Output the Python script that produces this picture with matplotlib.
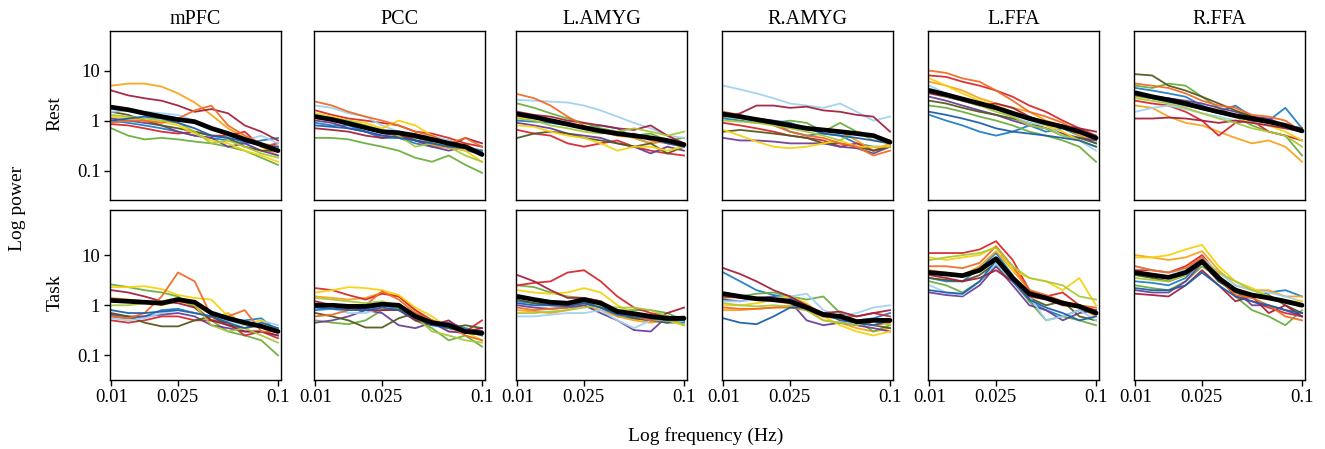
import matplotlib.pyplot as plt
import numpy as np

# ==========================================================
# DATA  (power spectra, 12 subjects + group mean)
# ==========================================================

freq = [0.01, 0.0126, 0.0158, 0.02, 0.0251, 0.0316, 0.0398, 0.0501, 0.0631, 0.0794, 0.1]

regions = ["mPFC", "PCC", "L.AMYG", "R.AMYG", "L.FFA", "R.FFA"]
conditions = ["Rest", "Task"]

# subject order: blue, orange, green, red, purple, olive, light blue,
#                yellow, dark red, orange-red, yellow-green, dark blue

rest_mPFC = [
    [1.0, 0.9, 0.8, 0.7, 0.6, 0.5, 0.45, 0.4, 0.35, 0.4, 0.45],
    [5.0, 5.5, 5.5, 4.8, 3.5, 2.3, 1.3, 0.7, 0.45, 0.3, 0.2],
    [0.7, 0.5, 0.42, 0.45, 0.42, 0.38, 0.35, 0.3, 0.25, 0.18, 0.13],
    [0.85, 0.8, 0.7, 0.6, 0.55, 0.6, 0.5, 0.5, 0.6, 0.3, 0.35],
    [1.1, 1.0, 0.9, 0.8, 0.6, 0.5, 0.45, 0.3, 0.35, 0.25, 0.2],
    [1.5, 1.3, 1.0, 0.8, 0.7, 0.6, 0.5, 0.45, 0.3, 0.25, 0.25],
    [1.5, 1.6, 1.5, 1.4, 1.3, 1.0, 0.7, 0.5, 0.4, 0.5, 0.35],
    [1.2, 1.1, 1.0, 0.95, 0.8, 0.55, 0.4, 0.35, 0.25, 0.2, 0.15],
    [4.0, 3.2, 2.8, 2.5, 2.0, 1.5, 1.7, 1.4, 0.8, 0.6, 0.4],
    [0.9, 1.0, 1.0, 0.9, 1.1, 1.6, 2.0, 0.8, 0.5, 0.35, 0.3],
    [1.3, 1.2, 1.1, 1.0, 0.9, 0.6, 0.35, 0.4, 0.3, 0.22, 0.18],
    [1.0, 1.1, 1.2, 1.1, 0.9, 0.7, 0.5, 0.45, 0.38, 0.32, 0.3],
]
mean_rest_mPFC = [1.85, 1.65, 1.4, 1.2, 1.05, 0.95, 0.7, 0.55, 0.42, 0.33, 0.25]

rest_PCC = [
    [0.9, 0.8, 0.8, 0.6, 0.45, 0.45, 0.35, 0.3, 0.3, 0.25, 0.22],
    [1.1, 1.0, 0.85, 0.75, 0.6, 0.5, 0.4, 0.32, 0.28, 0.35, 0.2],
    [0.45, 0.45, 0.42, 0.35, 0.3, 0.25, 0.18, 0.15, 0.2, 0.13, 0.09],
    [1.6, 1.3, 1.1, 1.0, 0.9, 0.8, 0.6, 0.55, 0.45, 0.35, 0.3],
    [1.0, 0.9, 0.7, 0.6, 0.5, 0.55, 0.4, 0.3, 0.25, 0.3, 0.25],
    [1.2, 1.1, 0.9, 0.8, 0.6, 0.5, 0.45, 0.38, 0.4, 0.3, 0.2],
    [2.0, 1.8, 1.4, 1.2, 0.8, 0.6, 0.5, 0.5, 0.4, 0.3, 0.25],
    [1.4, 1.2, 1.0, 0.9, 0.7, 1.0, 0.8, 0.5, 0.3, 0.25, 0.15],
    [0.7, 0.65, 0.6, 0.5, 0.45, 0.5, 0.4, 0.35, 0.3, 0.45, 0.35],
    [2.4, 2.0, 1.5, 1.2, 1.0, 0.8, 0.6, 0.5, 0.35, 0.45, 0.3],
    [1.3, 1.1, 1.0, 0.8, 0.65, 0.5, 0.3, 0.35, 0.3, 0.2, 0.15],
    [0.8, 0.75, 0.7, 0.6, 0.5, 0.45, 0.4, 0.35, 0.3, 0.28, 0.25],
]
mean_rest_PCC = [1.2, 1.05, 0.88, 0.72, 0.6, 0.57, 0.5, 0.42, 0.35, 0.3, 0.21]

rest_LAMYG = [
    [1.0, 0.95, 0.9, 0.8, 0.7, 0.8, 0.7, 0.45, 0.35, 0.4, 0.3],
    [1.2, 1.1, 1.0, 0.9, 0.7, 0.6, 0.5, 0.45, 0.35, 0.4, 0.32],
    [2.2, 1.8, 1.4, 1.1, 0.9, 0.7, 0.6, 0.5, 0.55, 0.4, 0.45],
    [0.65, 0.55, 0.5, 0.35, 0.3, 0.35, 0.4, 0.3, 0.25, 0.22, 0.2],
    [0.9, 0.8, 0.7, 0.55, 0.5, 0.45, 0.35, 0.3, 0.22, 0.3, 0.25],
    [0.45, 0.55, 0.6, 0.55, 0.45, 0.4, 0.35, 0.3, 0.35, 0.22, 0.3],
    [2.6, 2.5, 2.4, 2.3, 2.0, 1.6, 1.2, 0.9, 0.7, 0.5, 0.45],
    [0.8, 0.75, 0.6, 0.5, 0.45, 0.35, 0.25, 0.3, 0.3, 0.25, 0.3],
    [1.5, 1.3, 1.2, 1.0, 0.9, 0.8, 0.7, 0.65, 0.8, 0.5, 0.35],
    [3.4, 2.8, 2.0, 1.2, 0.8, 0.6, 0.5, 0.55, 0.4, 0.35, 0.3],
    [1.1, 1.0, 0.8, 0.7, 0.6, 0.55, 0.6, 0.7, 0.6, 0.5, 0.6],
    [1.3, 1.2, 1.0, 0.85, 0.7, 0.6, 0.55, 0.5, 0.45, 0.35, 0.3],
]
mean_rest_LAMYG = [1.35, 1.18, 1.0, 0.85, 0.72, 0.62, 0.55, 0.5, 0.45, 0.4, 0.33]

rest_RAMYG = [
    [1.1, 1.0, 0.9, 0.9, 0.6, 0.5, 0.55, 0.5, 0.35, 0.3, 0.3],
    [1.4, 1.2, 1.0, 0.9, 0.8, 0.7, 0.65, 0.6, 0.4, 0.25, 0.35],
    [1.2, 1.1, 1.0, 0.9, 1.0, 0.9, 0.6, 0.9, 0.6, 0.5, 0.4],
    [0.9, 0.8, 0.7, 0.6, 0.5, 0.45, 0.4, 0.3, 0.35, 0.25, 0.3],
    [0.45, 0.4, 0.4, 0.38, 0.35, 0.35, 0.35, 0.3, 0.28, 0.22, 0.3],
    [0.6, 0.65, 0.6, 0.55, 0.5, 0.45, 0.35, 0.35, 0.3, 0.25, 0.3],
    [5.0, 4.2, 3.5, 2.8, 2.2, 2.0, 1.8, 2.2, 1.5, 1.0, 1.2],
    [0.65, 0.5, 0.38, 0.3, 0.28, 0.3, 0.35, 0.4, 0.3, 0.3, 0.3],
    [1.2, 1.4, 2.0, 2.0, 1.8, 1.9, 1.6, 1.5, 1.3, 1.2, 0.6],
    [1.5, 1.3, 1.0, 0.8, 0.6, 0.5, 0.45, 0.35, 0.3, 0.2, 0.25],
    [1.0, 0.95, 0.9, 0.8, 0.7, 0.6, 0.5, 0.4, 0.6, 0.4, 0.35],
    [1.3, 1.2, 1.1, 1.0, 0.9, 0.7, 0.55, 0.5, 0.45, 0.4, 0.35],
]
mean_rest_RAMYG = [1.35, 1.2, 1.05, 0.92, 0.8, 0.7, 0.65, 0.6, 0.55, 0.5, 0.37]

rest_LFFA = [
    [1.3, 1.0, 0.8, 0.6, 0.5, 0.6, 0.8, 0.6, 0.7, 0.5, 0.35],
    [6.0, 5.0, 4.0, 2.8, 2.2, 1.8, 1.5, 1.0, 0.8, 0.5, 0.4],
    [2.0, 1.8, 1.5, 1.2, 1.0, 0.8, 0.6, 0.5, 0.4, 0.3, 0.15],
    [8.0, 7.5, 6.0, 5.0, 4.0, 3.0, 2.0, 1.5, 1.0, 0.7, 0.5],
    [3.0, 2.5, 2.0, 1.6, 1.3, 1.0, 0.8, 0.7, 0.55, 0.45, 0.4],
    [2.5, 2.2, 1.8, 1.5, 1.3, 1.1, 0.9, 0.7, 0.5, 0.45, 0.35],
    [5.0, 3.5, 2.7, 2.0, 1.7, 1.2, 0.9, 0.8, 0.5, 0.4, 0.25],
    [7.0, 5.0, 3.5, 2.5, 2.0, 1.5, 1.2, 0.8, 0.6, 0.4, 0.3],
    [3.5, 3.0, 2.5, 2.0, 2.2, 1.8, 1.2, 0.9, 0.8, 0.7, 0.6],
    [10.0, 9.0, 7.0, 6.0, 4.0, 2.5, 1.5, 1.2, 0.9, 0.6, 0.5],
    [4.0, 3.0, 2.5, 2.0, 1.5, 1.2, 0.8, 0.7, 0.5, 0.4, 0.3],
    [1.5, 1.3, 1.1, 0.9, 0.7, 0.6, 0.55, 0.5, 0.45, 0.4, 0.3],
]
mean_rest_LFFA = [4.0, 3.3, 2.7, 2.2, 1.8, 1.4, 1.1, 0.9, 0.75, 0.6, 0.45]

rest_RFFA = [
    [4.5, 4.0, 3.5, 3.0, 2.0, 1.5, 2.0, 1.2, 1.0, 1.8, 0.7],
    [2.0, 1.8, 1.2, 0.9, 0.8, 0.6, 0.45, 0.35, 0.4, 0.3, 0.15],
    [5.0, 4.5, 5.5, 5.0, 3.0, 1.8, 1.2, 0.8, 0.6, 0.5, 0.2],
    [2.5, 2.2, 2.0, 1.5, 1.0, 0.5, 0.9, 1.0, 0.6, 0.5, 0.4],
    [3.5, 3.0, 2.8, 2.5, 2.2, 1.8, 1.5, 1.2, 1.1, 0.8, 0.7],
    [8.5, 8.0, 5.0, 4.0, 3.0, 2.2, 1.6, 1.2, 1.0, 0.8, 0.7],
    [1.5, 1.8, 2.0, 1.7, 1.4, 1.2, 1.0, 0.9, 0.8, 0.7, 0.6],
    [3.0, 2.8, 2.5, 2.0, 1.8, 1.5, 1.2, 0.9, 0.8, 0.6, 0.4],
    [1.1, 1.1, 1.15, 1.1, 1.0, 0.9, 1.0, 0.9, 0.8, 0.7, 0.6],
    [5.5, 5.0, 4.5, 3.5, 2.5, 2.0, 1.8, 1.3, 1.2, 1.0, 0.6],
    [2.8, 2.5, 2.2, 1.8, 1.4, 1.1, 0.9, 0.7, 0.6, 0.5, 0.3],
    [3.2, 2.8, 2.4, 2.0, 1.7, 1.4, 1.2, 1.0, 0.9, 0.8, 0.6],
]
mean_rest_RFFA = [3.6, 3.0, 2.6, 2.2, 1.8, 1.5, 1.25, 1.1, 0.95, 0.8, 0.62]

task_mPFC = [
    [0.6, 0.55, 0.6, 0.8, 0.85, 0.7, 0.6, 0.5, 0.5, 0.55, 0.3],
    [1.4, 1.3, 1.2, 1.0, 1.2, 1.0, 0.5, 0.7, 0.4, 0.4, 0.3],
    [2.6, 2.3, 2.0, 1.8, 1.5, 0.9, 0.5, 0.3, 0.25, 0.2, 0.1],
    [0.5, 0.45, 0.5, 0.6, 0.6, 0.5, 0.5, 0.45, 0.25, 0.3, 0.22],
    [0.65, 0.6, 0.6, 0.65, 0.7, 0.6, 0.4, 0.35, 0.3, 0.3, 0.25],
    [0.7, 0.6, 0.45, 0.38, 0.38, 0.5, 0.6, 0.4, 0.35, 0.4, 0.3],
    [0.55, 0.5, 0.55, 0.7, 0.8, 0.7, 0.6, 0.5, 0.4, 0.5, 0.4],
    [2.3, 2.3, 2.4, 2.1, 1.6, 1.4, 1.3, 0.6, 0.4, 0.5, 0.3],
    [2.0, 1.8, 1.5, 1.2, 1.1, 0.9, 0.5, 0.4, 0.3, 0.3, 0.25],
    [0.6, 0.55, 0.7, 1.5, 4.5, 3.0, 0.6, 0.6, 0.8, 0.3, 0.3],
    [1.0, 1.0, 1.1, 1.2, 1.4, 1.0, 0.4, 0.3, 0.35, 0.25, 0.18],
    [0.8, 0.7, 0.7, 0.75, 0.8, 0.7, 0.6, 0.45, 0.35, 0.45, 0.35],
]
mean_task_mPFC = [1.25, 1.2, 1.15, 1.1, 1.3, 1.15, 0.7, 0.55, 0.45, 0.38, 0.3]

task_PCC = [
    [0.8, 0.85, 0.9, 0.85, 1.0, 0.85, 0.5, 0.4, 0.45, 0.35, 0.3],
    [1.5, 1.4, 1.3, 1.4, 1.8, 1.5, 0.8, 0.5, 0.3, 0.3, 0.25],
    [0.5, 0.45, 0.42, 0.5, 0.8, 0.9, 0.5, 0.35, 0.2, 0.25, 0.15],
    [2.2, 2.0, 1.6, 1.3, 1.7, 1.5, 0.8, 0.5, 0.35, 0.3, 0.5],
    [0.45, 0.5, 0.6, 0.8, 0.7, 0.4, 0.35, 0.45, 0.3, 0.28, 0.3],
    [0.7, 0.6, 0.5, 0.36, 0.36, 0.55, 0.7, 0.5, 0.35, 0.4, 0.35],
    [0.9, 0.85, 0.7, 0.7, 0.9, 1.0, 0.6, 0.45, 0.4, 0.3, 0.28],
    [1.8, 2.0, 2.3, 2.2, 2.0, 1.6, 0.9, 0.6, 0.35, 0.3, 0.2],
    [1.2, 1.0, 0.85, 0.8, 0.8, 0.8, 0.5, 0.4, 0.5, 0.3, 0.35],
    [0.6, 0.65, 0.8, 1.0, 1.9, 1.3, 0.7, 0.5, 0.4, 0.25, 0.2],
    [1.4, 1.3, 1.2, 1.1, 1.2, 1.0, 0.6, 0.3, 0.25, 0.2, 0.18],
    [0.9, 0.85, 0.8, 0.8, 0.9, 0.8, 0.55, 0.4, 0.35, 0.3, 0.25],
]
mean_task_PCC = [1.0, 1.0, 0.95, 0.95, 1.05, 1.0, 0.6, 0.45, 0.4, 0.3, 0.28]

task_LAMYG = [
    [1.2, 1.1, 1.0, 1.0, 1.2, 0.9, 0.6, 0.55, 0.5, 0.45, 0.45],
    [0.8, 0.75, 0.7, 0.8, 1.0, 0.8, 0.6, 0.5, 0.45, 0.5, 0.4],
    [2.5, 2.3, 1.8, 1.5, 1.4, 1.2, 0.8, 0.8, 0.8, 0.7, 0.5],
    [2.5, 2.8, 3.0, 4.5, 5.0, 3.0, 1.5, 0.9, 0.7, 0.6, 0.5],
    [1.0, 0.9, 0.85, 0.9, 1.0, 0.7, 0.5, 0.32, 0.3, 0.6, 0.5],
    [1.3, 1.1, 1.0, 1.0, 1.1, 0.9, 0.7, 0.55, 0.5, 0.45, 0.55],
    [0.6, 0.6, 0.65, 0.7, 0.7, 0.8, 0.5, 0.35, 0.5, 0.5, 0.5],
    [2.0, 1.8, 1.7, 1.8, 2.2, 1.8, 1.0, 0.7, 0.6, 0.5, 0.4],
    [4.0, 3.0, 2.0, 1.4, 1.4, 1.2, 0.7, 0.6, 0.5, 0.7, 0.9],
    [0.9, 0.8, 0.85, 0.9, 1.4, 1.2, 0.8, 0.6, 0.5, 0.55, 0.6],
    [0.7, 0.7, 0.75, 0.8, 0.9, 1.0, 0.9, 0.9, 0.8, 0.6, 0.4],
    [1.1, 1.0, 1.0, 0.95, 1.1, 0.9, 0.65, 0.6, 0.55, 0.5, 0.5],
]
mean_task_LAMYG = [1.5, 1.3, 1.15, 1.1, 1.3, 1.1, 0.75, 0.68, 0.6, 0.55, 0.55]

task_RAMYG = [
    [4.5, 3.0, 2.0, 1.6, 1.4, 1.0, 0.6, 0.55, 0.5, 0.55, 0.7],
    [0.8, 0.8, 0.85, 0.9, 1.0, 0.8, 0.5, 0.45, 0.35, 0.3, 0.35],
    [1.4, 1.5, 1.7, 1.8, 1.5, 1.3, 1.5, 0.7, 0.5, 0.3, 0.4],
    [1.5, 1.4, 1.3, 1.2, 1.1, 0.9, 0.6, 0.65, 0.6, 0.7, 0.6],
    [1.3, 1.2, 1.4, 1.5, 1.2, 0.5, 0.4, 0.45, 0.4, 0.35, 0.3],
    [1.6, 1.5, 1.4, 1.3, 1.1, 0.8, 0.6, 0.55, 0.45, 0.4, 0.35],
    [1.2, 1.2, 1.3, 1.4, 1.5, 1.7, 0.8, 0.6, 0.7, 0.9, 1.0],
    [1.0, 1.0, 1.1, 1.3, 1.5, 1.1, 0.6, 0.4, 0.3, 0.25, 0.3],
    [5.5, 4.2, 3.0, 2.0, 1.5, 1.0, 0.7, 0.75, 0.6, 0.7, 0.8],
    [0.9, 0.85, 0.85, 0.9, 0.9, 0.8, 0.6, 0.55, 0.5, 0.4, 0.45],
    [1.1, 1.0, 0.95, 1.0, 0.95, 0.8, 0.5, 0.45, 0.4, 0.5, 0.4],
    [0.55, 0.45, 0.42, 0.6, 0.9, 0.9, 0.7, 0.5, 0.45, 0.4, 0.5],
]
mean_task_RAMYG = [1.7, 1.5, 1.35, 1.3, 1.2, 0.9, 0.65, 0.6, 0.47, 0.5, 0.5]

task_LFFA = [
    [3.5, 3.0, 3.0, 5.5, 11, 4.0, 1.2, 0.8, 0.6, 0.8, 0.7],
    [5.0, 4.5, 4.0, 6.0, 12, 5.0, 2.0, 1.5, 1.0, 0.9, 0.6],
    [3.0, 2.5, 1.8, 3.0, 6.0, 3.0, 1.2, 0.5, 0.6, 0.5, 0.4],
    [11, 11, 11, 13, 19, 8.0, 2.0, 1.5, 1.8, 1.0, 0.8],
    [1.8, 1.6, 1.5, 2.5, 6.0, 2.5, 1.0, 0.8, 0.5, 0.7, 0.8],
    [3.5, 3.2, 3.0, 4.0, 7.0, 3.5, 1.4, 1.0, 1.2, 0.6, 0.5],
    [2.5, 1.8, 1.6, 3.0, 7.0, 3.0, 1.5, 0.5, 0.6, 0.8, 0.5],
    [9.0, 8.0, 9.0, 10, 15, 5.0, 3.5, 3.0, 2.0, 3.5, 1.0],
    [4.0, 3.5, 3.0, 3.5, 5.0, 3.0, 1.5, 1.3, 1.0, 1.0, 0.7],
    [6.0, 6.0, 5.5, 7.0, 15, 6.0, 2.0, 1.6, 1.2, 1.0, 0.9],
    [8.0, 9.0, 10, 11, 14, 6.0, 3.5, 3.0, 2.5, 1.5, 1.3],
    [2.0, 1.8, 1.7, 3.0, 8.0, 3.0, 1.3, 0.9, 0.7, 0.5, 0.6],
]
mean_task_LFFA = [4.5, 4.2, 3.9, 5.0, 8.5, 3.5, 1.7, 1.4, 1.1, 0.95, 0.7]

task_RFFA = [
    [3.0, 2.8, 2.5, 3.5, 8.0, 3.0, 2.2, 1.5, 1.8, 2.0, 1.5],
    [10, 9.0, 8.0, 9.0, 12, 5.0, 2.5, 2.0, 2.0, 1.5, 1.5],
    [2.5, 2.2, 2.0, 3.0, 6.0, 3.5, 1.5, 0.8, 0.6, 0.4, 0.8],
    [5.0, 5.0, 4.5, 6.0, 10, 4.0, 1.5, 1.2, 0.9, 0.7, 0.6],
    [2.0, 1.8, 1.8, 3.0, 7.0, 3.0, 2.0, 1.0, 1.0, 0.8, 0.6],
    [4.0, 3.5, 3.0, 4.0, 7.0, 3.0, 1.8, 1.4, 1.6, 1.0, 0.7],
    [6.0, 5.0, 4.5, 5.0, 9.0, 4.5, 2.5, 2.0, 1.8, 1.5, 1.2],
    [9.0, 9.0, 10, 13, 16, 6.0, 3.0, 2.2, 1.5, 1.2, 1.2],
    [1.7, 1.6, 1.5, 2.5, 5.0, 2.5, 1.2, 1.5, 0.7, 1.0, 0.6],
    [6.0, 5.0, 4.5, 5.5, 9.0, 3.5, 1.6, 1.4, 1.0, 0.6, 0.5],
    [3.5, 3.2, 3.0, 4.0, 8.0, 4.5, 3.0, 2.0, 1.5, 1.1, 1.0],
    [2.2, 2.0, 2.0, 2.5, 4.5, 2.5, 1.5, 1.2, 1.0, 0.8, 0.7],
]
mean_task_RFFA = [4.5, 4.0, 3.6, 4.5, 7.5, 3.5, 2.0, 1.6, 1.4, 1.2, 1.0]

rest_subjects = [rest_mPFC, rest_PCC, rest_LAMYG, rest_RAMYG, rest_LFFA, rest_RFFA]
rest_means = [mean_rest_mPFC, mean_rest_PCC, mean_rest_LAMYG,
              mean_rest_RAMYG, mean_rest_LFFA, mean_rest_RFFA]
task_subjects = [task_mPFC, task_PCC, task_LAMYG, task_RAMYG, task_LFFA, task_RFFA]
task_means = [mean_task_mPFC, mean_task_PCC, mean_task_LAMYG,
              mean_task_RAMYG, mean_task_LFFA, mean_task_RFFA]

xticks = [0.01, 0.025, 0.1]
xtick_labels = ["0.01", "0.025", "0.1"]
yticks = [0.1, 1, 10]
ytick_labels = ["0.1", "1", "10"]

# ==========================================================
# PLOT
# ==========================================================

plt.rcParams.update({
    "font.family": "Liberation Serif",
    "font.size": 13.5,
})

colors = ["#1f7fc4", "#f9a21b", "#6aaf3d", "#d7282c", "#6b3f98", "#55581e",
          "#9fd2f0", "#f7d10c", "#a3203e", "#f26a24", "#a9c939", "#1d5fa8"]

W, H = 1325, 449
fig = plt.figure(figsize=(W / 100, H / 100), dpi=100)

# panel boxes in pixels: left edge, width; row top/bottom
col_left = [110, 314, 516, 722, 928, 1134]
box_w = 171
rows_px = [(30.7, 200.0), (210.0, 379.5)]
ylims = [(10 ** -1.59, 10 ** 1.8), (10 ** -1.48, 10 ** 1.9)]

data_rows = [(rest_subjects, rest_means), (task_subjects, task_means)]

for r, (subs, means) in enumerate(data_rows):
    top, bot = rows_px[r]
    for c in range(6):
        ax = fig.add_axes([col_left[c] / W, (H - bot) / H, box_w / W, (bot - top) / H])

        for col, s in zip(colors, subs[c]):
            ax.plot(freq, s, color=col, lw=1.3, alpha=0.95,
                    solid_joinstyle="round")
        ax.plot(freq, means[c], color="black", lw=3.4,
                solid_capstyle="round", solid_joinstyle="round")

        ax.set_xscale("log")
        ax.set_yscale("log")
        ax.set_xlim(0.0098, 0.1042)
        ax.set_ylim(*ylims[r])
        ax.minorticks_off()

        for sp in ax.spines.values():
            sp.set_linewidth(1.0)

        ax.tick_params(direction="out", length=4, width=1.0, pad=3)

        if r == 1:
            ax.set_xticks(xticks)
            ax.set_xticklabels(xtick_labels)
        else:
            ax.set_xticks([])

        if c == 0:
            ax.set_yticks(yticks)
            ax.set_yticklabels(ytick_labels)
        else:
            ax.set_yticks([])

        if r == 0:
            ax.set_title(regions[c], fontsize=14.5, pad=5)

# row labels and axis labels
for r, cond in enumerate(conditions):
    top, bot = rows_px[r]
    fig.text(55 / W, 1 - ((top + bot) / 2 - 2) / H, cond, rotation=90,
             ha="center", va="center", fontsize=14)

fig.text(18 / W, 1 - 208 / H, "Log power", rotation=90,
         ha="center", va="center", fontsize=14)
fig.text(706 / W, 1 - 436 / H, "Log frequency (Hz)",
         ha="center", va="center", fontsize=14)

plt.savefig("out.png", dpi=100)
